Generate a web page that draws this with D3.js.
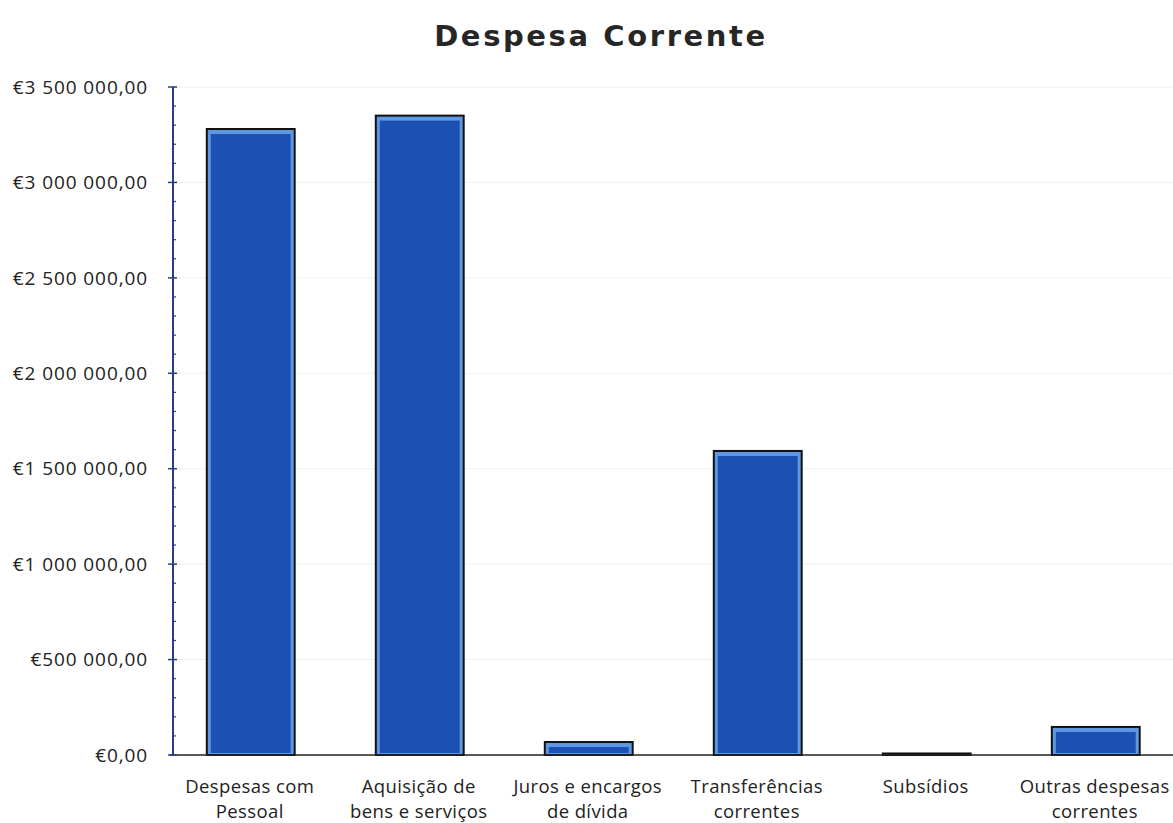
<!DOCTYPE html>
<html><head><meta charset="utf-8">
<script src="https://cdn.jsdelivr.net/npm/d3@7"></script>
<style>body{margin:0;background:#fff}svg{display:block}</style>
</head><body>
<svg id="c" width="1173" height="823"></svg>
<script>
const title = "Despesa Corrente";
const categories = [
  ["Despesas com", "Pessoal"],
  ["Aquisição de", "bens e serviços"],
  ["Juros e encargos", "de dívida"],
  ["Transferências", "correntes"],
  ["Subsídios"],
  ["Outras despesas", "correntes"]
];
const values = [3280000, 3350000, 68000, 1593000, 8000, 147000];
const yTicks = [0, 500000, 1000000, 1500000, 2000000, 2500000, 3000000, 3500000];
const yTickLabels = ["€0,00", "€500 000,00", "€1 000 000,00", "€1 500 000,00", "€2 000 000,00", "€2 500 000,00", "€3 000 000,00", "€3 500 000,00"];

const svg = d3.select("#c");
const font = "'Open Sans', sans-serif";
const axisX = 173;

const x = d3.scaleBand().domain(d3.range(categories.length)).range([173, 1173.5]).paddingInner(0.48).paddingOuter(0.2);
const y = d3.scaleLinear().domain([0, 3500000]).range([755, 87]);

// gridlines
svg.append("g").selectAll("line").data(yTicks.slice(1)).join("line")
  .attr("x1", axisX).attr("x2", 1173).attr("y1", d => y(d)).attr("y2", d => y(d))
  .attr("stroke", "#f0f0f0").attr("stroke-width", 1);

// title
svg.append("text").attr("x", 601).attr("y", 46).attr("text-anchor", "middle")
  .attr("font-family", "'DejaVu Sans', sans-serif").attr("font-weight", "bold")
  .attr("font-size", 29).attr("letter-spacing", 2.6).attr("fill", "#262626").text(title);

// bars
const data = values.map((v, i) => ({v, i}));
const bars = svg.append("g").selectAll("g").data(data).join("g");
bars.append("rect")
  .attr("x", d => x(d.i)).attr("y", d => y(d.v))
  .attr("width", x.bandwidth()).attr("height", d => Math.max(755 - y(d.v), 1))
  .attr("fill", "#5f98e2").attr("stroke", "#111").attr("stroke-width", 2);
bars.filter(d => 755 - y(d.v) > 8).append("rect")
  .attr("x", d => x(d.i) + 4).attr("y", d => y(d.v) + 5)
  .attr("width", x.bandwidth() - 8).attr("height", d => 755 - y(d.v) - 7)
  .attr("fill", "#1c50b2");

// baseline
svg.append("line").attr("x1", 170).attr("x2", 1173).attr("y1", y(0)).attr("y2", y(0))
  .attr("stroke", "#222").attr("stroke-width", 1.5);

// y axis
const ax = svg.append("g").attr("transform", `translate(${axisX},0)`);
ax.append("line").attr("y1", y(3500000)).attr("y2", y(0)).attr("stroke", "#2b3c8c").attr("stroke-width", 2);
const minor = d3.range(0, 3500001, 100000).filter(v => v % 500000 !== 0);
ax.selectAll("line.minor").data(minor).join("line").attr("class", "minor")
  .attr("x1", 0).attr("x2", 3).attr("y1", d => y(d)).attr("y2", d => y(d))
  .attr("stroke", "#2b3c8c").attr("stroke-width", 1.2);
ax.selectAll("line.major").data(yTicks).join("line").attr("class", "major")
  .attr("x1", -5).attr("x2", 4).attr("y1", d => y(d)).attr("y2", d => y(d))
  .attr("stroke", "#2b3c8c").attr("stroke-width", 1.5);
svg.append("g").selectAll("text").data(yTicks).join("text")
  .attr("x", 148).attr("y", d => y(d)).attr("dy", "0.35em").attr("text-anchor", "end")
  .attr("font-family", font).attr("font-size", 19).attr("letter-spacing", 0.9).attr("fill", "#222")
  .text((d, i) => yTickLabels[i]);

// category labels
const cl = svg.append("g").selectAll("text").data(categories).join("text")
  .attr("text-anchor", "middle").attr("font-family", font).attr("font-size", 18.5)
  .attr("letter-spacing", 0.4).attr("fill", "#222");
cl.selectAll("tspan").data((d, i) => d.map(t => ({t, i}))).join("tspan")
  .attr("x", d => x(d.i) + x.bandwidth() / 2 - 1)
  .attr("y", (d, j) => 793 + j * 25).text(d => d.t);
</script>
</body></html>
